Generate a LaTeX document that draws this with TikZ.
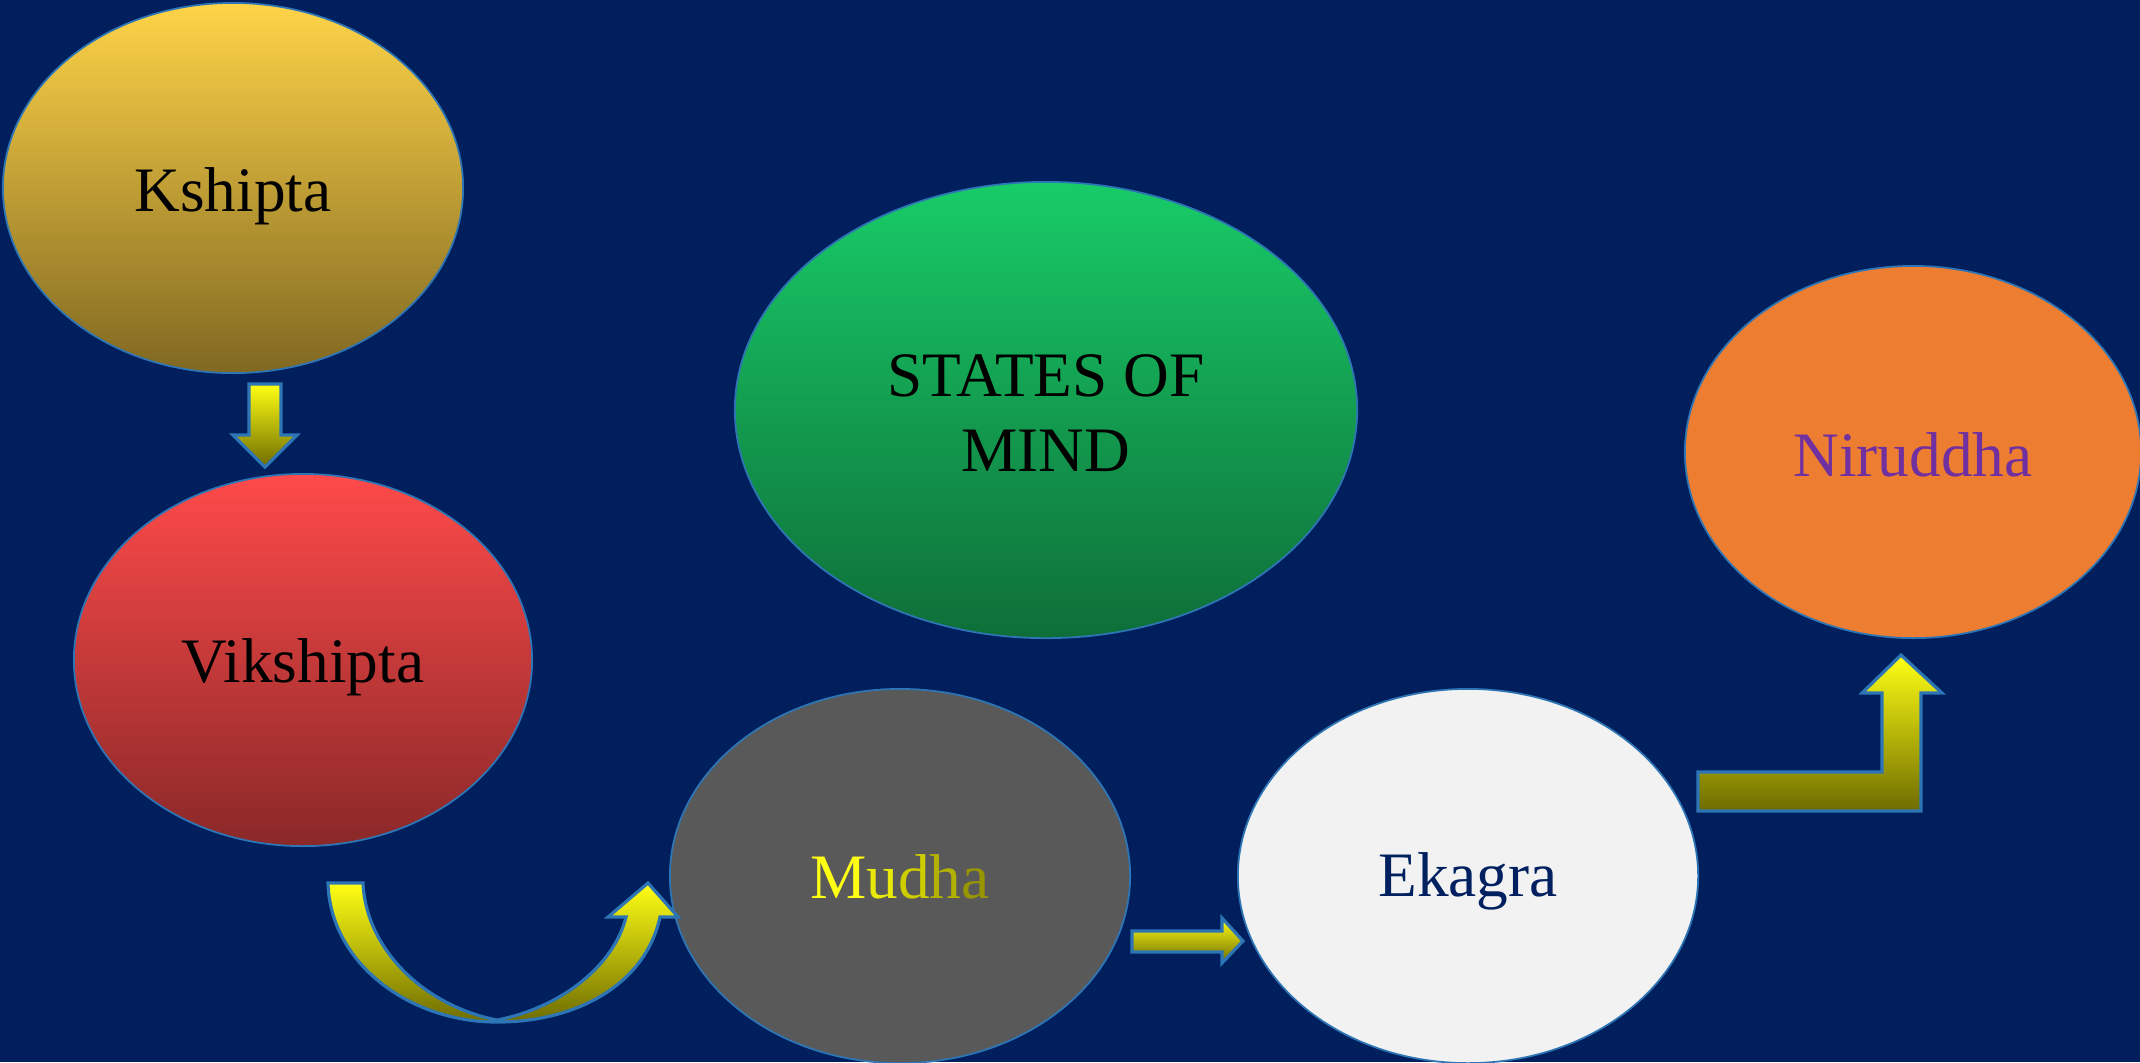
\documentclass[tikz,border=0pt]{standalone}
\usepackage{fontspec}
\setmainfont{Liberation Serif}
\usetikzlibrary{shapes.geometric}
\definecolor{bgnavy}{RGB}{0,31,92}
\definecolor{edgeblue}{RGB}{46,117,182}
\definecolor{goldtop}{RGB}{255,212,72}
\definecolor{goldbot}{RGB}{128,104,34}
\definecolor{redtop}{RGB}{255,74,74}
\definecolor{redbot}{RGB}{138,40,40}
\definecolor{greentop}{RGB}{24,204,104}
\definecolor{greenbot}{RGB}{14,110,56}
\definecolor{orangefill}{RGB}{237,125,49}
\definecolor{greyfill}{RGB}{89,89,89}
\definecolor{whitefill}{RGB}{242,242,242}
\definecolor{purpletext}{RGB}{112,48,160}
\definecolor{navytext}{RGB}{0,32,96}
\definecolor{arrowtop}{RGB}{255,255,20}
\definecolor{arrowbot}{RGB}{110,108,0}
\newcommand{\lowertext}[2]{\raisebox{-#1}[\height][\depth]{#2}}
\begin{document}
\begin{tikzpicture}[x=0.01cm,y=-0.01cm,
    state/.style={draw=edgeblue,ellipse,inner sep=0pt,line width=0.5pt,font=\fontsize{18}{21.5}\selectfont,align=center},
    blockarrow/.style={draw=edgeblue,line width=0.9pt,line join=miter,top color=arrowtop,bottom color=arrowbot}]
\useasboundingbox[fill=bgnavy] (0,0) rectangle (2140,1062);
% states
\node[state,minimum width=4.6cm,minimum height=3.7cm,top color=goldtop,bottom color=goldbot] (kshipta) at (233,188) {\lowertext{2.3pt}{Kshipta}};
\node[state,minimum width=4.58cm,minimum height=3.72cm,top color=redtop,bottom color=redbot] (vikshipta) at (303,660) {\lowertext{2pt}{Vikshipta}};
\node[state,minimum width=6.22cm,minimum height=4.56cm,top color=greentop,bottom color=greenbot] (title) at (1046,410) {\lowertext{0.85pt}{STATES OF}\\\lowertext{0.85pt}{MIND}};
\node[state,minimum width=4.56cm,minimum height=3.72cm,fill=orangefill,text=purpletext] (niruddha) at (1913,452) {\lowertext{0.8pt}{Niruddha}};
\node[state,minimum width=4.6cm,minimum height=3.74cm,fill=greyfill] (mudha) at (900,876) {\lowertext{0.3pt}{\textcolor[RGB]{255,255,20}{M}\textcolor[RGB]{232,232,10}{u}\textcolor[RGB]{205,205,0}{d}\textcolor[RGB]{178,176,0}{h}\textcolor[RGB]{152,150,0}{a}}};
\node[state,minimum width=4.6cm,minimum height=3.74cm,fill=whitefill,text=navytext] (ekagra) at (1468,876) {\lowertext{1.4pt}{Ekagra}};
% block arrows
\draw[blockarrow] (249,384) -- (281,384) -- (281,435) -- (297,435) -- (265,467) -- (233,435) -- (249,435) -- cycle;
\draw[blockarrow] (328,883) -- (363,883) .. controls (366,950) and (425,1006) .. (497,1020)
    .. controls (560,1008) and (614,966) .. (626,917) -- (608,917) -- (648,883) -- (678,917) -- (660,917)
    .. controls (646,982) and (580,1022) .. (497,1022)
    .. controls (408,1022) and (330,962) .. cycle;
\draw[blockarrow] (1132,931) -- (1222,931) -- (1222,918) -- (1243,941) -- (1222,963) -- (1222,952) -- (1132,952) -- cycle;
\draw[blockarrow] (1698,772) -- (1882,772) -- (1882,693) -- (1862,693) -- (1901,655) -- (1942,693) -- (1921,693) -- (1921,811) -- (1698,811) -- cycle;
\end{tikzpicture}
\end{document}
